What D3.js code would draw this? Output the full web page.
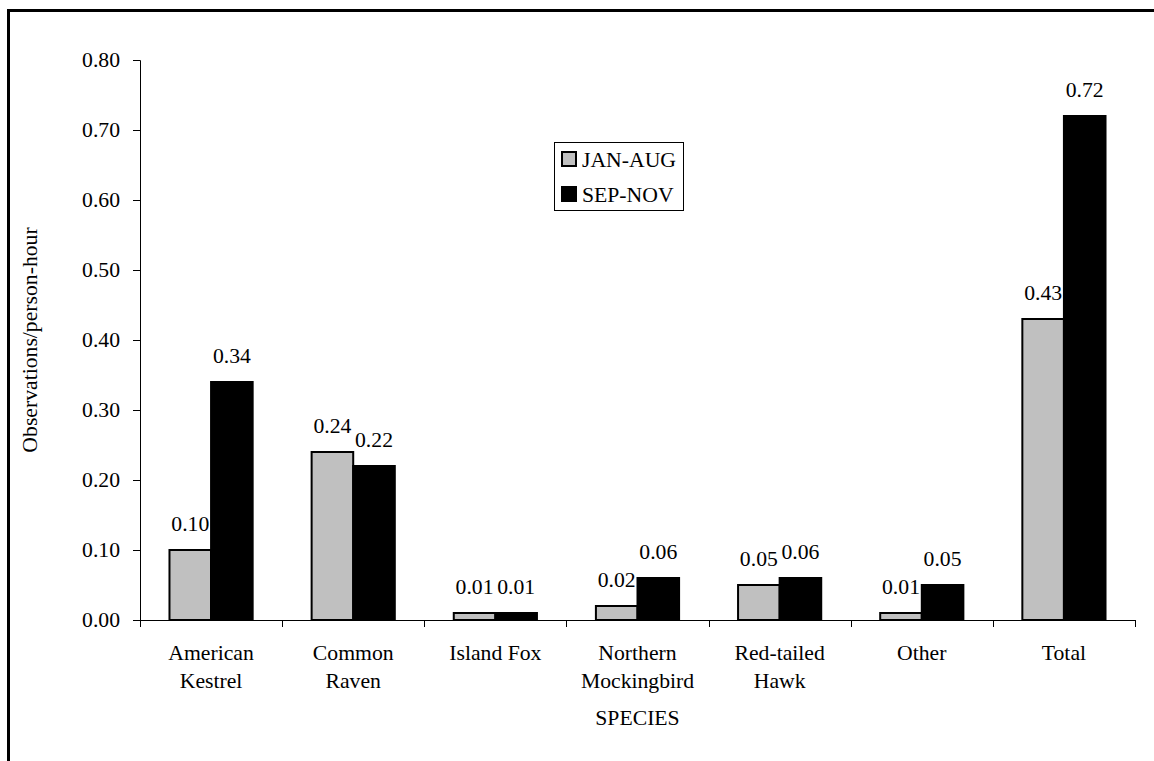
<!DOCTYPE html>
<html><head><meta charset="utf-8">
<script src="https://cdn.jsdelivr.net/npm/d3@7"></script>
<style>body{margin:0;background:#fff}svg{display:block}</style>
</head><body>
<svg id="c" width="1154" height="761"></svg>
<script>
const categories = [["American","Kestrel"],["Common","Raven"],["Island Fox"],["Northern","Mockingbird"],["Red-tailed","Hawk"],["Other"],["Total"]];
const seriesNames = ["JAN-AUG","SEP-NOV"];
const janAug = [0.10,0.24,0.01,0.02,0.05,0.01,0.43];
const sepNov = [0.34,0.22,0.01,0.06,0.06,0.05,0.72];
const yTicks = [0,0.1,0.2,0.3,0.4,0.5,0.6,0.7,0.8];
const colors = ["#c0c0c0","#000000"];
const values = [janAug, sepNov];

const FONT = '"Liberation Serif"';
const FS = "21.7px";
const svg = d3.select("#c");
function txt(sel){ return sel.style("font-family",FONT).style("font-size",FS).attr("fill","#000"); }

svg.append("rect").attr("x",8.5).attr("y",10.5).attr("width",1200).attr("height",800)
  .attr("fill","none").attr("stroke","#000").attr("stroke-width",3);

const x0 = d3.scaleBand().domain(d3.range(categories.length)).range([140,1135]).padding(0);
const x1 = d3.scaleBand().domain(seriesNames).range([0,x0.bandwidth()]).paddingInner(0).paddingOuter(0.709);
const y = d3.scaleLinear().domain([0,0.8]).range([620,60]);

// y axis
const ya = svg.append("g").attr("transform","translate(140,0)")
  .call(d3.axisLeft(y).tickValues(yTicks).tickFormat(d3.format(".2f")).tickSize(7).tickPadding(13));
txt(ya.selectAll("text"));
ya.selectAll("line,path").attr("stroke","#000");

// bars
categories.forEach((c,i)=>{
  seriesNames.forEach((s,j)=>{
    const v = values[j][i];
    svg.append("rect").attr("x",x0(i)+x1(s)).attr("y",y(v)).attr("width",x1.bandwidth()).attr("height",y(0)-y(v))
      .attr("fill",colors[j]).attr("stroke","#000").attr("stroke-width",2);
    txt(svg.append("text").attr("x",x0(i)+x1(s)+x1.bandwidth()/2).attr("y",y(v)-19)
      .attr("text-anchor","middle")).text(d3.format(".2f")(v));
  });
});

// x axis
const xa = svg.append("g").attr("transform","translate(0,620)");
xa.append("line").attr("x1",140).attr("x2",1135).attr("y1",0.5).attr("y2",0.5).attr("stroke","#000");
d3.range(categories.length+1).forEach(i=>{
  const xx = 140 + i*x0.step();
  xa.append("line").attr("x1",Math.round(xx)+0.5).attr("x2",Math.round(xx)+0.5).attr("y1",0).attr("y2",7).attr("stroke","#000");
});
categories.forEach((c,i)=>{
  const t = txt(svg.append("text").attr("text-anchor","middle"));
  c.forEach((line,k)=>{
    t.append("tspan").attr("x",x0(i)+x0.bandwidth()/2).attr("y",660+k*28).text(line);
  });
});

txt(svg.append("text").attr("x",637.5).attr("y",725).attr("text-anchor","middle")).text("SPECIES");
txt(svg.append("text").attr("transform","translate(37,340) rotate(-90)").attr("text-anchor","middle")).text("Observations/person-hour");

// legend
const lg = svg.append("g");
lg.append("rect").attr("x",554.5).attr("y",142.5).attr("width",129).attr("height",68).attr("fill","#fff").attr("stroke","#000");
seriesNames.forEach((s,j)=>{
  const yy = 152 + j*35;
  lg.append("rect").attr("x",562).attr("y",yy).attr("width",14).attr("height",14).attr("fill",colors[j]).attr("stroke","#000").attr("stroke-width",2);
  txt(lg.append("text").attr("x",582).attr("y",yy+15)).text(s);
});
</script>
</body></html>
